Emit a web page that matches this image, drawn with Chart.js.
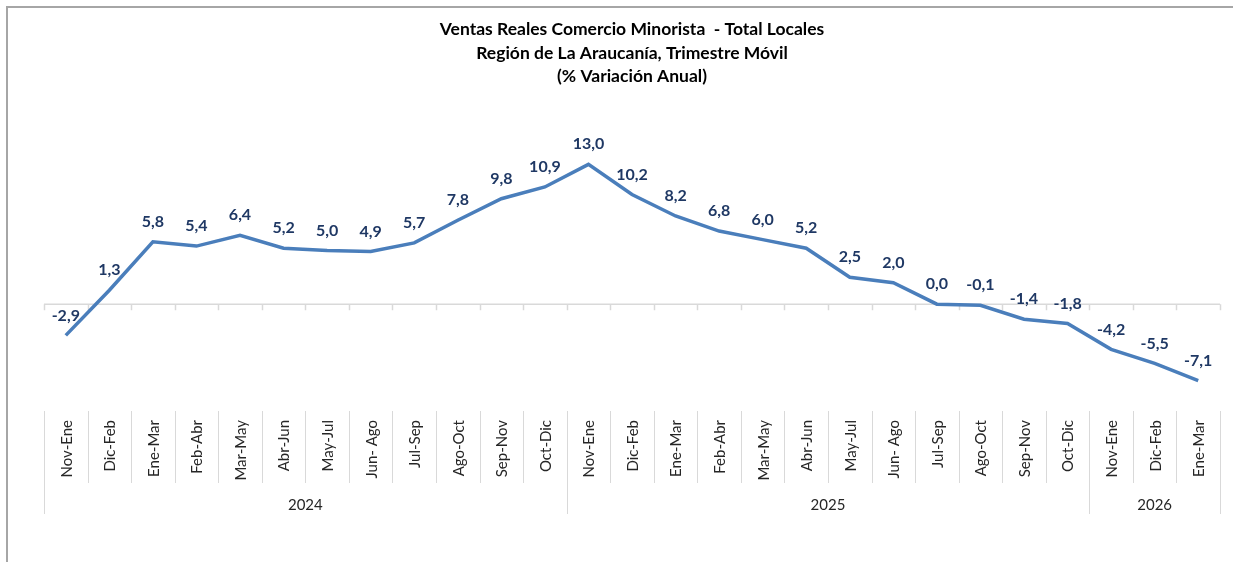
<!DOCTYPE html>
<html>
<head>
<meta charset="utf-8">
<script src="https://cdn.jsdelivr.net/npm/chart.js@4"></script>
<style>
  html, body { margin: 0; padding: 0; background: #fff; }
  #wrap { position: relative; width: 1233px; height: 562px; overflow: hidden; }
  #frame { position: absolute; left: 6px; top: 6px; right: -10px; bottom: -10px;
           border-top: 2px solid #a6a6a6; border-left: 2px solid #a6a6a6; }
  canvas { position: absolute; left: 0; top: 0; }
</style>
</head>
<body>
<div id="wrap">
  <div id="frame"></div>
  <canvas id="ventasChart" width="1233" height="562"></canvas>
</div>
<script>
// Datos
const categorias = [
    'Nov-Ene', 'Dic-Feb', 'Ene-Mar', 'Feb-Abr', 'Mar-May', 'Abr-Jun', 'May-Jul', 'Jun- Ago', 'Jul-Sep', 'Ago-Oct', 'Sep-Nov', 'Oct-Dic',
    'Nov-Ene', 'Dic-Feb', 'Ene-Mar', 'Feb-Abr', 'Mar-May', 'Abr-Jun', 'May-Jul', 'Jun- Ago', 'Jul-Sep', 'Ago-Oct', 'Sep-Nov', 'Oct-Dic',
    'Nov-Ene', 'Dic-Feb', 'Ene-Mar'
];
const anios = ['2024', '2025', '2026'];
const mesesPorAnio = [12, 12, 3];
const variacion = [
    -2.9, 1.3, 5.8, 5.4, 6.4, 5.2, 5.0, 4.9, 5.7, 7.8, 9.8, 10.9,
    13.0, 10.2, 8.2, 6.8, 6.0, 5.2, 2.5, 2.0, 0.0, -0.1, -1.4, -1.8,
    -4.2, -5.5, -7.1
];
const titulo = [
    'Ventas Reales Comercio Minorista  - Total Locales',
    'Región de La Araucanía, Trimestre Móvil',
    '(% Variación Anual)'
];

const fuente = "Lato, 'Open Sans', sans-serif";

// Eje horizontal en cero + etiquetas agrupadas por año
const ejeAgrupado = {
    id: 'ejeAgrupado',
    beforeDatasetsDraw(chart) {
        const ctx = chart.ctx;
        const y = chart.scales.y;
        const area = chart.chartArea;
        const y0 = y.getPixelForValue(0);
        const paso = (area.right - area.left) / categorias.length;

        ctx.save();
        ctx.strokeStyle = '#d9d9d9';
        ctx.lineWidth = 1.5;
        ctx.beginPath();
        ctx.moveTo(area.left, y0);
        ctx.lineTo(area.right, y0);
        for (let i = 0; i <= categorias.length; i++) {
            const px = Math.round(area.left + i * paso) + 0.5;
            ctx.moveTo(px, y0);
            ctx.lineTo(px, y0 + 6);
        }
        ctx.stroke();
        ctx.restore();
    },
    afterDraw(chart) {
        const ctx = chart.ctx;
        const x = chart.scales.x;
        const area = chart.chartArea;
        const paso = (area.right - area.left) / categorias.length;
        const arriba = 411;

        // separadores
        const limites = [0];
        mesesPorAnio.reduce((acc, n) => { limites.push(acc + n); return acc + n; }, 0);
        ctx.save();
        ctx.strokeStyle = '#d9d9d9';
        ctx.lineWidth = 1;
        ctx.beginPath();
        for (let i = 0; i <= categorias.length; i++) {
            const px = Math.round(area.left + i * paso) + 0.5;
            ctx.moveTo(px, arriba);
            ctx.lineTo(px, limites.includes(i) ? 514 : 483);
        }
        ctx.stroke();

        // etiquetas de categoría
        ctx.fillStyle = '#262626';
        ctx.font = '15px ' + fuente;
        ctx.textAlign = 'right';
        ctx.textBaseline = 'middle';
        categorias.forEach((cat, i) => {
            const px = x.getPixelForValue(i);
            ctx.save();
            ctx.translate(px + 1, 420);
            ctx.rotate(-Math.PI / 2);
            ctx.fillText(cat, 0, 0);
            ctx.restore();
        });

        // etiquetas de año
        ctx.textAlign = 'center';
        anios.forEach((anio, k) => {
            const centro = area.left + (limites[k] + limites[k + 1]) / 2 * paso;
            ctx.fillText(anio, centro, 505);
        });
        ctx.restore();
    }
};

// Etiquetas de datos
const etiquetas = {
    id: 'etiquetas',
    afterDatasetsDraw(chart) {
        const ctx = chart.ctx;
        const meta = chart.getDatasetMeta(0);
        ctx.save();
        ctx.fillStyle = '#1f3864';
        ctx.font = 'bold 16px ' + fuente;
        ctx.textAlign = 'center';
        ctx.textBaseline = 'middle';
        meta.data.forEach((pt, i) => {
            const txt = variacion[i].toFixed(1).replace('.', ',');
            ctx.fillText(txt, pt.x, pt.y - 20);
        });
        ctx.restore();
    }
};

const ctxVentas = document.getElementById('ventasChart').getContext('2d');
new Chart(ctxVentas, {
    type: 'line',
    data: {
        labels: categorias,
        datasets: [{
            label: 'Variación anual',
            data: variacion,
            borderColor: '#4a7ebb',
            borderWidth: 3.5,
            pointRadius: 0,
            tension: 0,
            clip: false
        }]
    },
    options: {
        responsive: false,
        animation: false,
        layout: {
            padding: { left: 44, right: 13, top: 0, bottom: 161 }
        },
        plugins: {
            legend: { display: false },
            tooltip: { enabled: false },
            title: {
                display: true,
                text: titulo,
                color: '#000',
                font: { family: fuente, size: 17.5, weight: 'bold', lineHeight: 1.33 },
                padding: { top: 18, bottom: 55 }
            }
        },
        scales: {
            x: { display: false, offset: true },
            y: { display: false, min: -9, max: 15 }
        }
    },
    plugins: [ejeAgrupado, etiquetas]
});
</script>
</body>
</html>
